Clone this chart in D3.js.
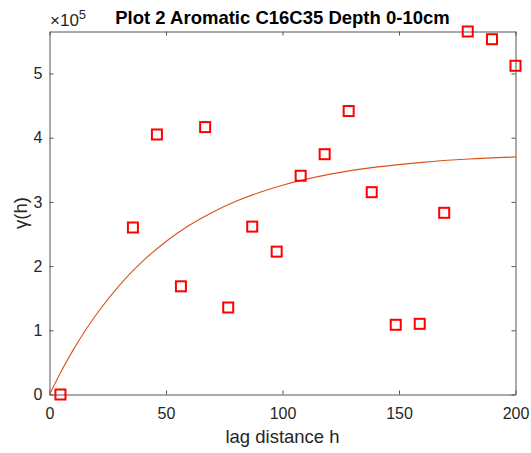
<!DOCTYPE html>
<html>
<head>
<meta charset="utf-8">
<script src="https://cdnjs.cloudflare.com/ajax/libs/d3/7.8.5/d3.min.js"></script>
<style>
  body { margin: 0; background: #fff; }
  text { font-family: "Liberation Sans", Arial, sans-serif; fill: #262626; }
</style>
</head>
<body>
<div id="chart"></div>
<script>
// data

var lag = [4.7, 35.8, 46.1, 56.4, 66.8, 76.7, 87.0, 97.5, 107.8, 118.1, 128.4, 138.3, 148.6, 158.9, 169.4, 179.5, 189.9, 200.0];
var gamma = [0, 260100, 405000, 168500, 416500, 135500, 261500, 222500, 340700, 374300, 441500, 315100, 108600, 110100, 283000, 565400, 553400, 512000];

// fitted model line
var modelLag = [0, 5, 10, 15, 20, 30, 40, 50, 60, 70, 80, 90, 100, 120, 140, 160, 180, 200];
var modelGamma = [0, 35900, 68300, 97700, 124300, 170100, 207600, 238300, 263500, 284000, 300900, 314700, 326000, 342800, 354100, 361600, 366700, 370100];

var xTicks = [0, 50, 100, 150, 200];
var yTicks = [0, 100000, 200000, 300000, 400000, 500000];

var width = 531,
  height = 453;

var margin = {left: 49.5, right: 15.5, top: 31.5, bottom: 58.5};

var x = d3.scaleLinear()
    .domain([0, 200])
    .range([margin.left, width - margin.right]);

var y = d3.scaleLinear()
    .domain([0, d3.max(gamma)])
    .range([height - margin.bottom, margin.top]);

var svg = d3.select("#chart").append("svg")
    .attr("width", width)
    .attr("height", height);

var axisColor = "#555";

// axes (box with ticks on all sides, pointing inward)

var xBottom = svg.append("g")
    .attr("transform", "translate(0," + y(0) + ")")
    .call(d3.axisBottom(x).tickValues(xTicks).tickSizeInner(-4).tickSizeOuter(0).tickPadding(13));

var xTop = svg.append("g")
    .attr("transform", "translate(0," + margin.top + ")")
    .call(d3.axisTop(x).tickValues(xTicks).tickSizeInner(-4).tickSizeOuter(0).tickFormat(""));

var yLeft = svg.append("g")
    .attr("transform", "translate(" + margin.left + ",0)")
    .call(d3.axisLeft(y).tickValues(yTicks).tickSizeInner(-4).tickSizeOuter(0).tickPadding(7)
      .tickFormat(function(d) { return d / 1e5; }));

var yRight = svg.append("g")
    .attr("transform", "translate(" + (width - margin.right) + ",0)")
    .call(d3.axisRight(y).tickValues(yTicks).tickSizeInner(-4).tickSizeOuter(0).tickFormat(""));

[xBottom, xTop, yLeft, yRight].forEach(function(g) {
  g.select(".domain").attr("stroke", axisColor);
  g.selectAll(".tick line").attr("stroke", axisColor);
  g.selectAll(".tick text")
    .style("font-family", "'Liberation Sans', Arial, sans-serif")
    .style("font-size", "16px")
    .attr("fill", "#262626");
});

// model curve

var line = d3.line()
    .x(function(d, i) { return x(modelLag[i]); })
    .y(function(d) { return y(d); })
    .curve(d3.curveMonotoneX);

svg.append("path")
    .datum(modelGamma)
    .attr("d", line)
    .attr("fill", "none")
    .attr("stroke", "#D95319")
    .attr("stroke-width", 1.1);

// experimental points, red squares

var s = 10;

svg.append("g")
  .selectAll("rect")
  .data(gamma)
  .enter().append("rect")
  .attr("x", function(d, i) { return x(lag[i]) - s / 2; })
  .attr("y", function(d) { return y(d) - s / 2; })
  .attr("width", s)
  .attr("height", s)
  .attr("fill", "none")
  .attr("stroke", "#ff0000")
  .attr("stroke-width", 2);

// title and labels

svg.append("text")
    .attr("x", (margin.left + width - margin.right) / 2)
    .attr("y", 23.5)
    .attr("text-anchor", "middle")
    .style("font-size", "18.5px")
    .style("font-weight", "bold")
    .style("fill", "#000")
    .text("Plot 2 Aromatic C16C35 Depth 0-10cm");

var exp = svg.append("text")
    .attr("x", 50)
    .attr("y", 26)
    .style("font-size", "17px");
exp.append("tspan").text("\u00d710");
exp.append("tspan")
    .attr("dy", -7)
    .style("font-size", "13px")
    .text("5");

svg.append("text")
    .attr("x", (margin.left + width - margin.right) / 2)
    .attr("y", 443)
    .attr("text-anchor", "middle")
    .style("font-size", "18.5px")
    .text("lag distance h");

svg.append("text")
    .attr("transform", "translate(27," + ((margin.top + height - margin.bottom) / 2) + ") rotate(-90)")
    .attr("text-anchor", "middle")
    .style("font-size", "18.5px")
    .text("\u03b3(h)");
</script>
</body>
</html>
